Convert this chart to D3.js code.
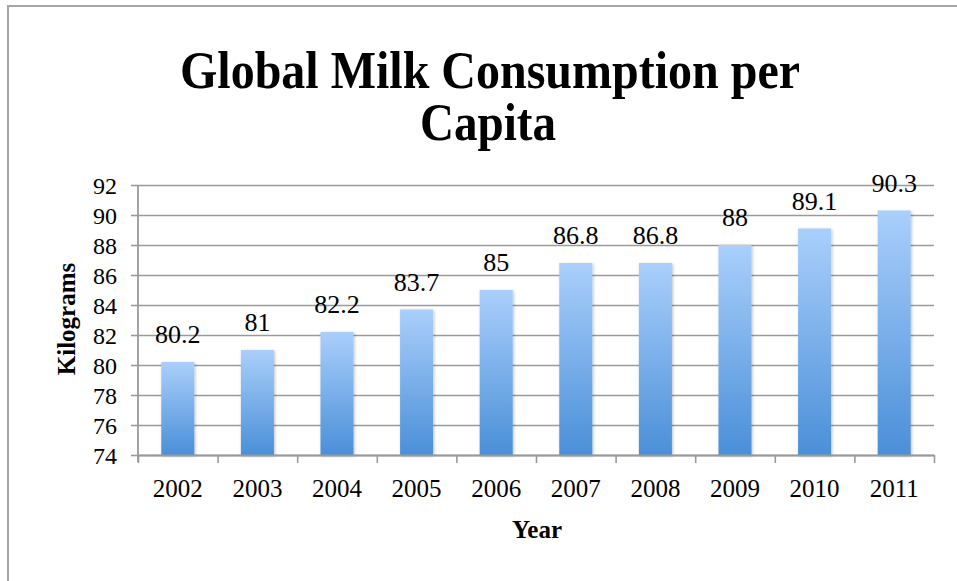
<!DOCTYPE html>
<html>
  <head>
    <meta charset="utf-8">
    <title>Global Milk Consumption per Capita</title>
    <script src="https://d3js.org/d3.v7.min.js"></script>
    <style>
      body { margin: 0; background: #fff; }
      svg text { font-family: "Liberation Serif", "Times New Roman", serif; fill: #000; }
    </style>
  </head>
  <body>
    <div id="chart"></div>
    <script>
      // chart data
      var years = ["2002", "2003", "2004", "2005", "2006", "2007", "2008", "2009", "2010", "2011"];
      var kilograms = [80.2, 81, 82.2, 83.7, 85, 86.8, 86.8, 88, 89.1, 90.3];
      var yTicks = [74, 76, 78, 80, 82, 84, 86, 88, 90, 92];

      var width = 957, height = 581;
      var margin = { top: 185, right: 23, bottom: 126, left: 138 };
      var innerW = width - margin.left - margin.right,
          innerH = height - margin.top - margin.bottom;

      var svg = d3.select("#chart")
        .append("svg")
        .attr("width", width)
        .attr("height", height);

      // gradient for bars
      var defs = svg.append("defs");
      var grad = defs.append("linearGradient")
        .attr("id", "barGrad")
        .attr("x1", 0).attr("y1", 0).attr("x2", 0).attr("y2", 1);
      grad.append("stop").attr("offset", "0%").attr("stop-color", "#aacffb");
      grad.append("stop").attr("offset", "100%").attr("stop-color", "#4a8fd8");
      var shadow = defs.append("filter").attr("id", "shadow")
        .attr("x", "-20%").attr("y", "-5%").attr("width", "140%").attr("height", "110%");
      shadow.append("feDropShadow")
        .attr("dx", 1).attr("dy", 1).attr("stdDeviation", 1.5)
        .attr("flood-color", "#000").attr("flood-opacity", 0.25);

      // outer frame (runs off the right and bottom)
      svg.append("path")
        .attr("d", "M8," + (height + 5) + "V6H" + (width + 5))
        .attr("fill", "none")
        .attr("stroke", "#a6a6a6")
        .attr("stroke-width", 2);

      // title, two lines
      svg.append("text")
        .attr("x", 490).attr("y", 88)
        .attr("text-anchor", "middle")
        .attr("textLength", 620).attr("lengthAdjust", "spacingAndGlyphs")
        .style("font-weight", "bold")
        .style("font-size", "52px")
        .text("Global Milk Consumption per");
      svg.append("text")
        .attr("x", 488).attr("y", 140)
        .attr("text-anchor", "middle")
        .attr("textLength", 136).attr("lengthAdjust", "spacingAndGlyphs")
        .style("font-weight", "bold")
        .style("font-size", "52px")
        .text("Capita");

      var g = svg.append("g")
        .attr("transform", "translate(" + margin.left + "," + margin.top + ")");

      var x = d3.scaleBand()
        .domain(years)
        .range([0, innerW])
        .paddingInner(0.585)
        .paddingOuter(0.2925);

      var y = d3.scaleLinear()
        .domain([74, 92])
        .range([innerH, 0]);

      // gridlines + y axis ticks
      g.append("g")
        .attr("class", "grid")
        .call(d3.axisLeft(y).tickValues(yTicks).tickSize(-innerW).tickFormat(""))
        .call(function(s) {
          s.select(".domain").remove();
          s.selectAll("line").attr("stroke", "#9a9a9a").attr("stroke-width", 1.6);
        });
      g.append("g")
        .call(d3.axisLeft(y).tickValues(yTicks).tickSize(7).tickPadding(14))
        .call(function(s) {
          s.select(".domain").remove();
          s.selectAll("line").attr("stroke", "#9a9a9a").attr("stroke-width", 1.6);
          s.selectAll("text").style("font-size", "24px").attr("dy", "0.34em");
        });

      // bars
      g.selectAll(".bar")
        .data(kilograms)
        .enter().append("rect")
          .attr("class", "bar")
          .attr("x", function(d, i) { return x(years[i]); })
          .attr("y", function(d) { return y(d); })
          .attr("width", x.bandwidth())
          .attr("height", function(d) { return innerH - y(d); })
          .attr("fill", "url(#barGrad)")
          .attr("filter", "url(#shadow)");

      // value labels
      g.selectAll(".label")
        .data(kilograms)
        .enter().append("text")
          .attr("class", "label")
          .attr("x", function(d, i) { return x(years[i]) + x.bandwidth() / 2; })
          .attr("y", function(d) { return y(d) - 19; })
          .attr("text-anchor", "middle")
          .style("font-size", "26px")
          .text(function(d) { return d; });

      // x axis: ticks on category boundaries
      var step = x.step();
      var boundaries = d3.range(years.length + 1).map(function(i) { return i * step; });
      var xb = d3.scaleLinear().domain([0, innerW]).range([0, innerW]);
      g.append("g")
        .attr("transform", "translate(0," + innerH + ")")
        .call(d3.axisBottom(xb).tickValues(boundaries).tickSize(8).tickSizeOuter(0).tickFormat(""))
        .call(function(s) {
          s.select(".domain").attr("stroke", "#9a9a9a").attr("stroke-width", 1.8);
          s.selectAll("line").attr("stroke", "#9a9a9a").attr("stroke-width", 1.6);
        });
      g.append("line")
        .attr("x1", 0).attr("x2", 0)
        .attr("y1", 0).attr("y2", innerH + 7)
        .attr("stroke", "#9a9a9a").attr("stroke-width", 1.8);

      g.append("g")
        .selectAll("text")
        .data(years)
        .enter().append("text")
          .attr("x", function(d) { return x(d) + x.bandwidth() / 2; })
          .attr("y", innerH + 42)
          .attr("text-anchor", "middle")
          .style("font-size", "25px")
          .text(function(d) { return d; });

      // axis titles
      svg.append("text")
        .attr("transform", "translate(75,319) rotate(-90)")
        .attr("text-anchor", "middle")
        .style("font-weight", "bold")
        .style("font-size", "25px")
        .text("Kilograms");
      svg.append("text")
        .attr("x", 537)
        .attr("y", 538)
        .attr("text-anchor", "middle")
        .style("font-weight", "bold")
        .style("font-size", "25px")
        .text("Year");
    </script>
  </body>
</html>
